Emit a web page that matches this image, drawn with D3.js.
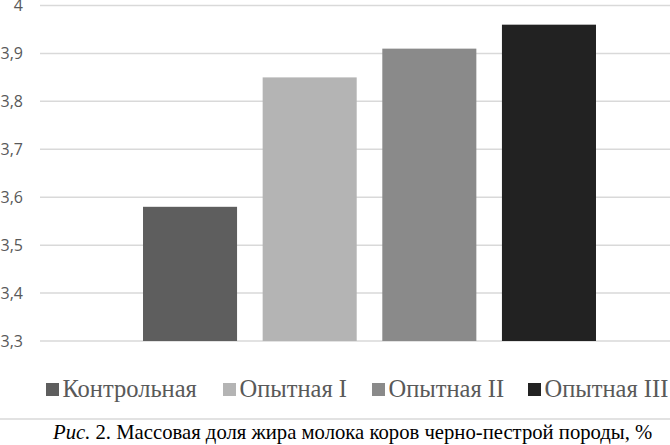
<!DOCTYPE html>
<html><head><meta charset="utf-8">
<script src="https://cdn.jsdelivr.net/npm/d3@7"></script>
<style>html,body{margin:0;padding:0;background:#fff;overflow:hidden}
.serif{font-family:"Liberation Serif","Times New Roman",serif}</style>
</head><body>
<svg id="c" width="670" height="445"></svg>
<script>
const series = ["Контрольная", "Опытная I", "Опытная II", "Опытная III"];
const values = [3.58, 3.85, 3.91, 3.96];
const colors = ["#5e5e5e", "#b4b4b4", "#8a8a8a", "#222222"];
const yTicks = [3.3, 3.4, 3.5, 3.6, 3.7, 3.8, 3.9, 4];
const caption = "Массовая доля жира молока коров черно-пестрой породы, %";

const svg = d3.select("#c");
const x = d3.scaleBand().domain(series).range([40, 699]).paddingInner(0.214).paddingOuter(0.861);
const y = d3.scaleLinear().domain([3.3, 4]).range([341, 5.5]);

// gridlines
svg.append("g").selectAll("line").data(yTicks).join("line")
  .attr("x1", 40).attr("x2", 700)
  .attr("y1", d => y(d)).attr("y2", d => y(d))
  .attr("stroke", "#d9d9d9").attr("stroke-width", 1.5);

// y labels
const yAxis = d3.axisLeft(y).tickValues(yTicks).tickSize(0).tickPadding(0)
  .tickFormat(d => d3.format(".1f")(d).replace(".", ",").replace(",0", ""));
const ga = svg.append("g").attr("transform", "translate(23,0)").call(yAxis);
ga.select(".domain").remove();
ga.selectAll("text").attr("fill", "#595959").style("font-family", "'Open Sans', sans-serif").style("font-size", "16px");

// bars
svg.append("g").selectAll("rect").data(series).join("rect")
  .attr("x", d => x(d)).attr("width", x.bandwidth())
  .attr("y", (d, i) => y(values[i])).attr("height", (d, i) => y(3.3) - y(values[i]))
  .attr("fill", (d, i) => colors[i]);

// legend
const legendX = [46, 223, 372, 528];
const lg = svg.append("g").selectAll("g").data(series).join("g")
  .attr("transform", (d, i) => `translate(${legendX[i]},383)`);
lg.append("rect").attr("width", 13).attr("height", 13).attr("fill", (d, i) => colors[i]);
lg.append("text").attr("class", "serif").attr("x", 16.5).attr("y", 14).text(d => d)
  .attr("fill", "#595959").style("font-size", "24.5px");

// separator
svg.append("line").attr("x1", 0).attr("x2", 670).attr("y1", 419).attr("y2", 419)
  .attr("stroke", "#d9d9d9").attr("stroke-width", 1.5);

// caption
const cap = svg.append("text").attr("class", "serif").attr("x", 53).attr("y", 439)
  .style("font-size", "20.7px").attr("fill", "#000");
cap.append("tspan").style("font-style", "italic").text("Рис.");
cap.append("tspan").text(" 2. " + caption);
</script>
</body></html>
